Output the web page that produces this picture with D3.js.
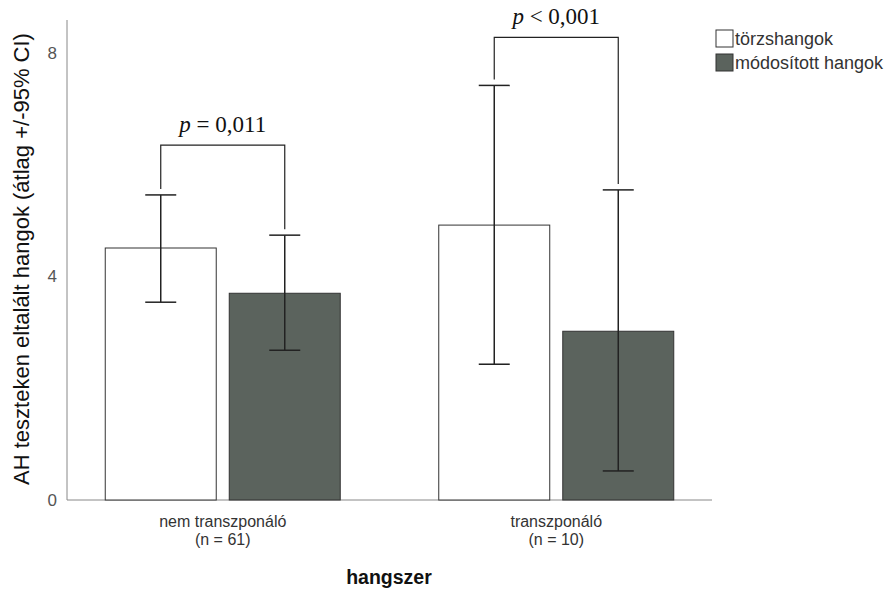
<!DOCTYPE html>
<html>
<head>
<meta charset="utf-8">
<script src="https://cdn.jsdelivr.net/npm/d3@7"></script>
<style>
  body { margin: 0; background: #fff; }
</style>
</head>
<body>
<div id="chart"></div>
<script>
// categories and series
var groups = ["nem transzponáló", "transzponáló"];
var groupN = ["(n = 61)", "(n = 10)"];
var subgroups = ["törzshangok", "módosított hangok"];
var means = [[4.51, 3.70], [4.92, 3.02]];
var ciLow = [[3.54, 2.68], [2.43, 0.52]];
var ciHigh = [[5.46, 4.74], [7.42, 5.55]];
var yTicks = [0, 4, 8];
var pLabels = [["p", " = 0,011"], ["p", " < 0,001"]];
var bracketLevel = [6.35, 8.28];

var width = 885, height = 589;
var margin = {top: 20, right: 173, bottom: 89, left: 67};
var colors = ["#ffffff", "#5b635d"];
var sans = "Liberation Sans, Arial, sans-serif";

var svg = d3.select("#chart")
  .append("svg")
    .attr("width", width)
    .attr("height", height);

// scales
var x = d3.scalePoint()
  .domain(groups)
  .range([margin.left, width - margin.right])
  .padding(0.467);

var xSub = d3.scaleBand()
  .domain(subgroups)
  .range([-117.5, 117.5])
  .paddingInner(0.105);

var y = d3.scaleLinear()
  .domain([0, 8])
  .range([500, 53]);

// y axis (line + labels, no ticks)
var yAxis = svg.append("g")
  .attr("transform", "translate(" + margin.left + ",0)")
  .call(d3.axisLeft(y).tickValues(yTicks).tickSize(0).tickPadding(10));
yAxis.select(".domain").remove();
yAxis.selectAll("text")
  .attr("font-family", sans)
  .attr("font-size", 17)
  .attr("fill", "#555");
svg.append("line")
  .attr("x1", margin.left).attr("x2", margin.left)
  .attr("y1", margin.top).attr("y2", y(0))
  .attr("stroke", "#888");
svg.append("line")
  .attr("x1", margin.left).attr("x2", width - margin.right)
  .attr("y1", y(0)).attr("y2", y(0))
  .attr("stroke", "#888");

// bars
var g = svg.selectAll(".grp")
  .data(groups)
  .enter()
  .append("g")
    .attr("class", "grp")
    .attr("transform", function(d) { return "translate(" + x(d) + ",0)"; });

g.selectAll("rect")
  .data(function(d, i) { return subgroups.map(function(s, j) { return {s: s, j: j, v: means[i][j]}; }); })
  .enter()
  .append("rect")
    .attr("x", function(d) { return xSub(d.s); })
    .attr("y", function(d) { return y(d.v); })
    .attr("width", xSub.bandwidth())
    .attr("height", function(d) { return y(0) - y(d.v); })
    .attr("fill", function(d) { return colors[d.j]; })
    .attr("stroke", "#333")
    .attr("stroke-width", 1);

// error bars
var eb = g.selectAll(".err")
  .data(function(d, i) { return subgroups.map(function(s, j) { return {s: s, lo: ciLow[i][j], hi: ciHigh[i][j]}; }); })
  .enter()
  .append("g")
    .attr("class", "err")
    .attr("transform", function(d) { return "translate(" + (xSub(d.s) + xSub.bandwidth() / 2) + ",0)"; })
    .attr("stroke", "#222")
    .attr("stroke-width", 1.5);
eb.append("line")
  .attr("x1", 0).attr("x2", 0)
  .attr("y1", function(d) { return y(d.lo); })
  .attr("y2", function(d) { return y(d.hi); });
eb.append("line")
  .attr("x1", -15.5).attr("x2", 15.5)
  .attr("y1", function(d) { return y(d.lo); })
  .attr("y2", function(d) { return y(d.lo); });
eb.append("line")
  .attr("x1", -15.5).attr("x2", 15.5)
  .attr("y1", function(d) { return y(d.hi); })
  .attr("y2", function(d) { return y(d.hi); });

// significance brackets
g.each(function(d, i) {
  var sel = d3.select(this);
  var xl = xSub(subgroups[0]) + xSub.bandwidth() / 2;
  var xr = xSub(subgroups[1]) + xSub.bandwidth() / 2;
  var yt = y(bracketLevel[i]);
  sel.append("path")
    .attr("d", "M" + xl + "," + (y(ciHigh[i][0]) - 6) + "V" + yt + "H" + xr + "V" + (y(ciHigh[i][1]) - 6))
    .attr("fill", "none")
    .attr("stroke", "#222")
    .attr("stroke-width", 1.2);
  var t = sel.append("text")
    .attr("x", 0)
    .attr("y", yt - 13)
    .attr("text-anchor", "middle")
    .attr("font-family", "Liberation Serif, DejaVu Serif, serif")
    .attr("font-size", 23)
    .attr("fill", "#111");
  t.append("tspan").attr("font-style", "italic").text(pLabels[i][0]);
  t.append("tspan").text(pLabels[i][1]);
});

// category labels
g.append("text")
  .attr("y", 527)
  .attr("text-anchor", "middle")
  .attr("font-family", sans)
  .attr("font-size", 16)
  .attr("fill", "#333")
  .text(function(d) { return d; });
g.append("text")
  .attr("y", 545)
  .attr("text-anchor", "middle")
  .attr("font-family", sans)
  .attr("font-size", 16)
  .attr("fill", "#333")
  .text(function(d, i) { return groupN[i]; });

// axis titles
svg.append("text")
  .attr("x", 389)
  .attr("y", 584)
  .attr("text-anchor", "middle")
  .attr("font-family", sans)
  .attr("font-size", 19.5)
  .attr("font-weight", "bold")
  .attr("fill", "#111")
  .text("hangszer");
svg.append("text")
  .attr("transform", "translate(29,259) rotate(-90)")
  .attr("text-anchor", "middle")
  .attr("font-family", sans)
  .attr("font-size", 22)
  .attr("fill", "#111")
  .text("AH teszteken eltalált hangok (átlag +/-95% CI)");

// legend
var leg = svg.selectAll(".leg")
  .data(subgroups)
  .enter()
  .append("g")
    .attr("class", "leg")
    .attr("transform", function(d, i) { return "translate(716," + (30 + i * 24) + ")"; });
leg.append("rect")
  .attr("width", 17).attr("height", 17)
  .attr("fill", function(d, i) { return colors[i]; })
  .attr("stroke", "#333");
leg.append("text")
  .attr("x", 19)
  .attr("y", 15)
  .attr("font-family", sans)
  .attr("font-size", 18)
  .attr("fill", "#333")
  .text(function(d) { return d; });
</script>
</body>
</html>
